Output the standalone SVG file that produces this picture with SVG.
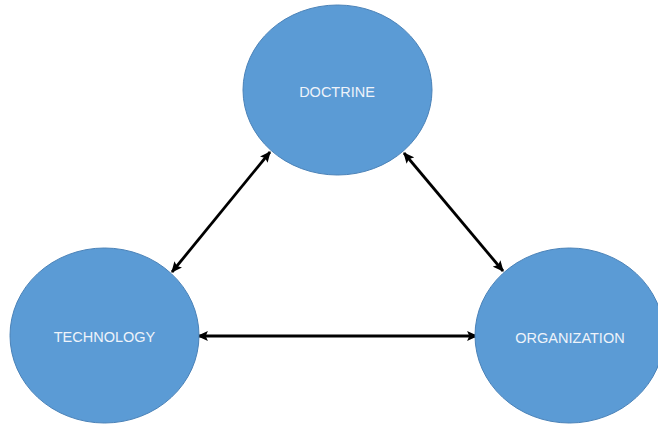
<svg xmlns="http://www.w3.org/2000/svg" width="658" height="427" viewBox="0 0 658 427">
  <style>
    .node ellipse { fill: #5b9bd5; stroke: #4a82b8; stroke-width: 1; }
    .node text { fill: #eef3fa; font-family: "Liberation Sans", Arial, sans-serif; font-size: 14.5px; text-anchor: middle; dominant-baseline: central; }
    .link { stroke: #000; stroke-width: 2.8; fill: none; marker-start: url(#head); marker-end: url(#head); }
  </style>
  <defs>
    <marker id="head" viewBox="0 0 10 10" refX="9" refY="5" markerWidth="11" markerHeight="11" markerUnits="userSpaceOnUse" orient="auto-start-reverse">
      <path d="M0,0.5 L10,5 L0,9.5 L2,5 Z" fill="#000"/>
    </marker>
  </defs>
  <rect width="658" height="427" fill="#fff"/>

  <g id="connectors">
    <line class="link" x1="172" y1="272" x2="270" y2="152"/>
    <line class="link" x1="404" y1="153" x2="503" y2="271"/>
    <line class="link" x1="198" y1="336" x2="477" y2="336"/>
  </g>

  <g id="doctrine" class="node">
    <ellipse cx="337.5" cy="90" rx="94.5" ry="85"/>
    <text x="337" y="92">DOCTRINE</text>
  </g>

  <g id="technology" class="node">
    <ellipse cx="104.5" cy="335.5" rx="94.5" ry="87.5"/>
    <text x="104.5" y="337">TECHNOLOGY</text>
  </g>

  <g id="organization" class="node">
    <ellipse cx="569.5" cy="335.5" rx="94.5" ry="87.5"/>
    <text x="570" y="338">ORGANIZATION</text>
  </g>
</svg>
